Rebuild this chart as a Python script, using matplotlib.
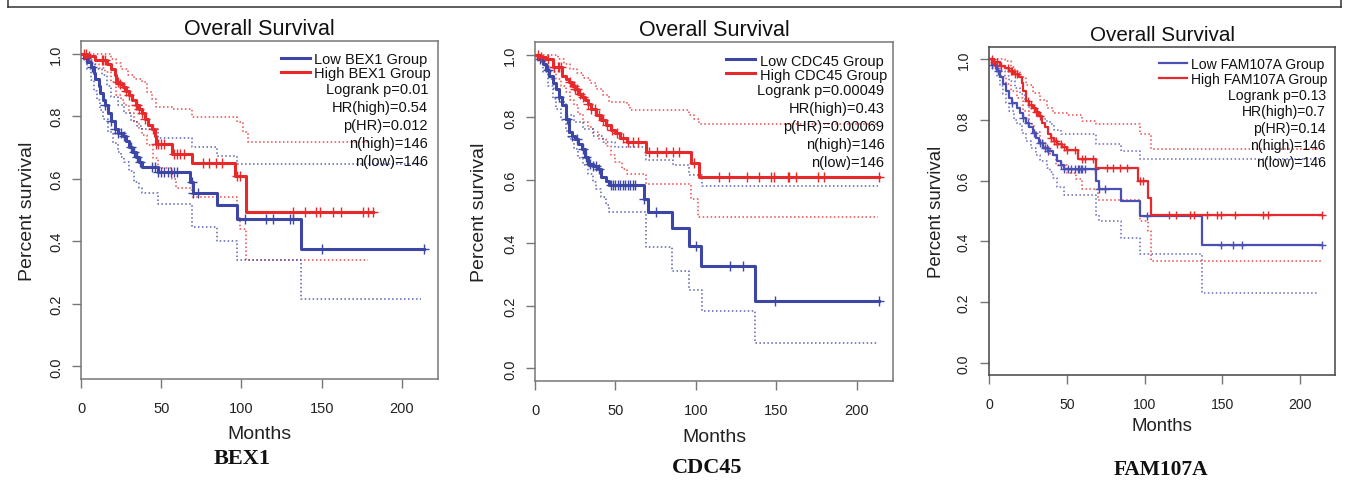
import numpy as np
import matplotlib
matplotlib.use("Agg")
import matplotlib.pyplot as plt
from matplotlib.lines import Line2D

plt.rcParams["font.family"] = ["Liberation Sans", "DejaVu Sans"]

genes = ["BEX1", "CDC45", "FAM107A"]
logrank_p = ["0.01", "0.00049", "0.13"]
hr_high = ["0.54", "0.43", "0.7"]
p_hr = ["0.012", "0.00069", "0.14"]
n_high = [146, 146, 146]
n_low = [146, 146, 146]

# ---- BEX1 ----
bex1_high_t = [0, 4, 9, 16, 19, 21, 22, 24, 26, 28, 30, 32, 34, 36, 38, 40, 42, 44, 46, 47, 57, 69, 96, 103]
bex1_high_s = [1.0, 0.993, 0.979, 0.965, 0.951, 0.93, 0.91, 0.903, 0.893, 0.88, 0.867, 0.852, 0.835, 0.822,
               0.81, 0.79, 0.772, 0.76, 0.735, 0.71, 0.68, 0.65, 0.61, 0.494]
bex1_high_end = 182
bex1_low_t = [0, 2, 4, 6, 8, 9, 11, 12, 14, 15, 17, 19, 21, 23, 26, 28, 30, 32, 34, 36, 38, 48, 68, 70, 85, 97, 137]
bex1_low_s = [1.0, 0.986, 0.972, 0.958, 0.937, 0.92, 0.895, 0.875, 0.85, 0.835, 0.81, 0.785, 0.76, 0.745,
              0.735, 0.72, 0.70, 0.685, 0.668, 0.652, 0.638, 0.622, 0.59, 0.555, 0.515, 0.47, 0.375]
bex1_low_end = 214
bex1_high_up_t = [0, 9, 19, 22, 25, 29, 33, 38, 41, 44, 47, 57, 69, 97, 101, 104]
bex1_high_up_s = [1.0, 1.0, 0.984, 0.97, 0.952, 0.93, 0.92, 0.91, 0.878, 0.856, 0.83, 0.823, 0.798, 0.782, 0.75, 0.718]
bex1_high_up_end = 180
bex1_high_lo_t = [0, 4, 7, 11, 15, 19, 22, 25, 27, 30, 33, 36, 38, 41, 45, 48, 57, 59, 69, 97, 99, 103]
bex1_high_lo_s = [1.0, 0.98, 0.968, 0.955, 0.94, 0.91, 0.867, 0.85, 0.835, 0.81, 0.782, 0.76, 0.739, 0.707,
                  0.665, 0.633, 0.60, 0.569, 0.542, 0.473, 0.44, 0.34]
bex1_high_lo_end = 179
bex1_low_up_t = [0, 3, 6, 9, 13, 16, 19, 23, 27, 31, 35, 38, 48, 69, 85, 97]
bex1_low_up_s = [1.0, 0.99, 0.97, 0.95, 0.93, 0.895, 0.86, 0.835, 0.81, 0.785, 0.77, 0.76, 0.73, 0.70, 0.673, 0.646]
bex1_low_up_end = 213
bex1_low_lo_t = [0, 2, 4, 6, 8, 10, 12, 14, 17, 20, 23, 25, 27, 30, 33, 36, 38, 48, 69, 85, 97, 137]
bex1_low_lo_s = [1.0, 0.975, 0.95, 0.915, 0.88, 0.85, 0.82, 0.79, 0.75, 0.715, 0.685, 0.67, 0.654, 0.625,
                 0.59, 0.57, 0.553, 0.52, 0.446, 0.40, 0.34, 0.215]
bex1_low_lo_end = 212
bex1_high_cens = [2, 3, 5, 13, 14, 15, 23, 24, 27, 28, 30, 34, 35, 36, 38, 40, 45, 47, 48, 50, 52, 58, 60, 62,
                  64, 76, 80, 84, 88, 97, 99, 132, 139.5, 146.7, 149, 157, 162, 176, 179, 182]
bex1_low_cens = [3, 7, 15, 19, 21, 23, 25, 27, 31, 33, 35, 37, 44, 46, 48, 50, 52, 54, 56, 58, 60, 69, 70, 73,
                 102, 115.6, 119.6, 130, 132, 150, 214]

# ---- CDC45 ----
cdc45_high_t = [0, 3, 7, 11, 17, 19, 21, 23, 25, 27, 29, 31, 33, 35, 38, 41, 44, 47, 50, 53, 57, 69, 97, 102]
cdc45_high_s = [1.0, 0.993, 0.986, 0.96, 0.933, 0.922, 0.912, 0.9, 0.89, 0.875, 0.865, 0.855, 0.844, 0.825,
                0.806, 0.79, 0.774, 0.76, 0.75, 0.735, 0.721, 0.691, 0.655, 0.61]
cdc45_high_end = 214
cdc45_low_t = [0, 2, 5, 7, 9, 11, 13, 15, 17, 19, 21, 23, 25, 27, 29, 31, 33, 36, 39, 41, 44, 46, 68, 70, 85,
               96, 103, 137]
cdc45_low_s = [1.0, 0.986, 0.97, 0.95, 0.933, 0.91, 0.89, 0.865, 0.838, 0.795, 0.753, 0.74, 0.732, 0.715,
               0.70, 0.675, 0.652, 0.645, 0.636, 0.61, 0.596, 0.583, 0.541, 0.50, 0.447, 0.39, 0.327, 0.214]
cdc45_low_end = 214
cdc45_high_up_t = [0, 9, 14, 18, 22, 26, 30, 34, 38, 42, 46, 57, 59, 96, 99, 102]
cdc45_high_up_s = [1.0, 0.997, 0.985, 0.97, 0.955, 0.94, 0.925, 0.91, 0.89, 0.87, 0.848, 0.84, 0.822, 0.806,
                   0.795, 0.78]
cdc45_high_up_end = 213
cdc45_high_lo_t = [0, 4, 7, 10, 13, 16, 19, 22, 24, 27, 30, 33, 36, 40, 44, 47, 50, 54, 57, 69, 97, 101]
cdc45_high_lo_s = [1.0, 0.985, 0.965, 0.945, 0.923, 0.9, 0.88, 0.855, 0.838, 0.81, 0.785, 0.77, 0.753, 0.73,
                   0.71, 0.68, 0.657, 0.635, 0.62, 0.589, 0.541, 0.483]
cdc45_high_lo_end = 213
cdc45_low_up_t = [0, 3, 6, 9, 12, 15, 19, 24, 30, 36, 42, 50, 69, 86, 96, 104]
cdc45_low_up_s = [1.0, 0.985, 0.955, 0.923, 0.89, 0.85, 0.806, 0.785, 0.763, 0.74, 0.721, 0.705, 0.663, 0.647,
                  0.615, 0.58]
cdc45_low_up_end = 213
cdc45_low_lo_t = [0, 2, 5, 8, 11, 13, 16, 19, 21, 24, 27, 30, 33, 36, 38, 41, 44, 46, 69, 85, 96, 104, 137]
cdc45_low_lo_s = [1.0, 0.975, 0.944, 0.9, 0.86, 0.827, 0.79, 0.755, 0.732, 0.70, 0.67, 0.647, 0.62, 0.595,
                  0.573, 0.545, 0.52, 0.499, 0.387, 0.31, 0.25, 0.182, 0.08]
cdc45_low_lo_end = 213
cdc45_high_cens = [2, 4, 8, 12, 14, 15, 16, 22, 24, 25, 26, 28, 30, 33, 35, 37, 40, 42, 45, 48, 51, 55, 58, 61,
                   64, 71, 76, 81.5, 85.7, 89.8, 99, 114.6, 120.8, 132, 139.5, 146.7, 148.8, 157, 158, 162,
                   175.7, 179.8, 214]
cdc45_low_cens = [3, 8, 15, 20, 23, 26, 30, 32, 34, 36, 38, 40, 47, 48.5, 50, 51.5, 53, 54.5, 56, 57.5, 59, 61,
                  62, 68, 75, 100, 121, 129, 149, 214]

# ---- FAM107A ----
fam_high_t = [0, 3, 7, 10, 13, 16, 19, 21, 22, 24, 26, 28, 30, 32, 34, 36, 38, 40, 42, 44, 47, 50, 57, 69, 96,
              102, 104]
fam_high_s = [1.0, 0.99, 0.978, 0.97, 0.961, 0.95, 0.94, 0.92, 0.895, 0.862, 0.85, 0.84, 0.825, 0.813, 0.79,
              0.775, 0.755, 0.742, 0.73, 0.72, 0.71, 0.70, 0.67, 0.64, 0.6, 0.543, 0.486]
fam_high_end = 214
fam_low_t = [0, 2, 5, 7, 9, 11, 13, 15, 18, 20, 22, 24, 26, 28, 30, 32, 35, 38, 41, 44, 46, 48, 69, 70.5, 85,
             97, 137]
fam_low_s = [1.0, 0.98, 0.961, 0.94, 0.917, 0.895, 0.873, 0.857, 0.84, 0.823, 0.807, 0.79, 0.775, 0.758,
             0.742, 0.725, 0.709, 0.697, 0.686, 0.665, 0.653, 0.637, 0.598, 0.571, 0.532, 0.484, 0.387]
fam_low_end = 214
fam_high_up_t = [0, 10, 14, 17, 20, 24, 28, 33, 37, 41, 50, 60, 69, 97, 104]
fam_high_up_s = [1.0, 0.995, 0.975, 0.96, 0.94, 0.915, 0.89, 0.865, 0.84, 0.824, 0.815, 0.797, 0.785, 0.752,
                 0.703]
fam_high_up_end = 214
fam_high_lo_t = [0, 3, 5, 8, 11, 14, 18, 22, 26, 29, 33, 36, 39, 43, 50, 56, 60, 70, 97, 102, 104]
fam_high_lo_s = [1.0, 0.98, 0.961, 0.94, 0.917, 0.895, 0.873, 0.83, 0.785, 0.76, 0.73, 0.71, 0.686, 0.653,
                 0.626, 0.604, 0.571, 0.535, 0.466, 0.433, 0.335]
fam_high_lo_end = 214
fam_low_up_t = [0, 3, 7, 10, 13, 17, 20, 23, 26, 30, 33, 36, 39, 42, 46, 69, 85, 97]
fam_low_up_s = [1.0, 0.985, 0.961, 0.945, 0.928, 0.905, 0.884, 0.862, 0.84, 0.82, 0.807, 0.795, 0.785, 0.768,
                0.752, 0.72, 0.697, 0.67]
fam_low_up_end = 214
fam_low_lo_t = [0, 2, 5, 7, 9, 11, 13, 16, 18, 21, 24, 27, 30, 33, 37, 39, 41, 44, 48, 69, 70.5, 85, 97, 137]
fam_low_lo_s = [1.0, 0.97, 0.94, 0.91, 0.884, 0.857, 0.83, 0.8, 0.785, 0.757, 0.73, 0.708, 0.686, 0.665, 0.643,
                0.627, 0.61, 0.58, 0.554, 0.488, 0.466, 0.41, 0.358, 0.231]
fam_low_lo_end = 211
fam_high_cens = [2, 3, 5, 8, 12, 14, 15, 17, 18, 25, 27, 29, 30, 31, 33, 40, 42, 43, 44, 46, 48, 50, 55, 60, 62,
                 67, 75.7, 80, 84.3, 88.6, 96.8, 99, 115.5, 120.4, 129.5, 131.6, 140.2, 146.7, 149.5, 158.5,
                 176.3, 179.6, 214.4]
fam_low_cens = [2, 4, 6, 15, 22, 25, 29, 33, 34, 36, 37, 38, 46, 48, 51, 53, 55, 57, 58, 59, 60, 62, 68, 70.5,
                74.6, 101.5, 149.2, 157, 162.8, 214]

panels = [
    dict(high=(bex1_high_t, bex1_high_s, bex1_high_end), low=(bex1_low_t, bex1_low_s, bex1_low_end),
         ci=[("high", bex1_high_up_t, bex1_high_up_s, bex1_high_up_end),
             ("high", bex1_high_lo_t, bex1_high_lo_s, bex1_high_lo_end),
             ("low", bex1_low_up_t, bex1_low_up_s, bex1_low_up_end),
             ("low", bex1_low_lo_t, bex1_low_lo_s, bex1_low_lo_end)],
         hc=bex1_high_cens, lc=bex1_low_cens),
    dict(high=(cdc45_high_t, cdc45_high_s, cdc45_high_end), low=(cdc45_low_t, cdc45_low_s, cdc45_low_end),
         ci=[("high", cdc45_high_up_t, cdc45_high_up_s, cdc45_high_up_end),
             ("high", cdc45_high_lo_t, cdc45_high_lo_s, cdc45_high_lo_end),
             ("low", cdc45_low_up_t, cdc45_low_up_s, cdc45_low_up_end),
             ("low", cdc45_low_lo_t, cdc45_low_lo_s, cdc45_low_lo_end)],
         hc=cdc45_high_cens, lc=cdc45_low_cens),
    dict(high=(fam_high_t, fam_high_s, fam_high_end), low=(fam_low_t, fam_low_s, fam_low_end),
         ci=[("high", fam_high_up_t, fam_high_up_s, fam_high_up_end),
             ("high", fam_high_lo_t, fam_high_lo_s, fam_high_lo_end),
             ("low", fam_low_up_t, fam_low_up_s, fam_low_up_end),
             ("low", fam_low_lo_t, fam_low_lo_s, fam_low_lo_end)],
         hc=fam_high_cens, lc=fam_low_cens),
]

# layout in pixels: left, top, right, bottom of each plot box
W, H = 1346, 485
boxes = [(81, 42, 438, 380), (535, 43, 893, 382), (989, 48, 1335, 376)]
legend_anchor = [(0.980, 0.966), (0.983, 0.966), (0.979, 0.971)]
legend_gap = [0.0, 0.0, 0.1]
stats_x = [0.972, 0.976, 0.973]
stats_y0 = [0.858, 0.859, 0.855]
stats_dy = [0.0533, 0.0535, 0.0515]
xlabel_y = [-0.136, -0.138, -0.128]
ylabel_x = [-0.126, -0.13, -0.126]
gene_pos = [(242.5, 459), (707.5, 468), (1161, 470)]
scale = [1.0, 1.0, 0.96]
main_lw = [2.2, 2.2, 1.6]
blues = ["#3b46a6", "#3b46a6", "#4a4fb4"]
red = "#e8292b"


def step_xy(t, s, end):
    return list(t) + [end], list(s) + [s[-1]]


def at(t, s, x):
    idx = np.searchsorted(np.array(t), np.array(x), side="right") - 1
    return np.array(s)[idx]


fig = plt.figure(figsize=(W / 100, H / 100), dpi=100)

for i, p in enumerate(panels):
    l, t, r, b = boxes[i]
    ax = fig.add_axes([l / W, 1 - b / H, (r - l) / W, (b - t) / H])
    k = scale[i]
    blue = blues[i]

    for grp, ct, cs, ce in p["ci"]:
        col = red if grp == "high" else blue
        x, y = step_xy(ct, cs, ce)
        ax.step(x, y, where="post", color=col, lw=1.1, ls=(0, (1, 1.6)), alpha=0.85, zorder=2)

    lt, ls_, le = p["low"]
    x, y = step_xy(lt, ls_, le)
    h_low, = ax.step(x, y, where="post", color=blue, lw=main_lw[i], zorder=3,
                     label=f"Low {genes[i]} Group")
    ax.plot(p["lc"], at(lt, ls_, p["lc"]), ls="none", marker="+", ms=6.5 * k, mew=1.0,
            color=blue, zorder=3)

    ht, hs, he = p["high"]
    x, y = step_xy(ht, hs, he)
    h_high, = ax.step(x, y, where="post", color=red, lw=main_lw[i], zorder=4,
                      label=f"High {genes[i]} Group")
    ax.plot(p["hc"], at(ht, hs, p["hc"]), ls="none", marker="+", ms=6.5 * k, mew=1.0,
            color=red, zorder=4)

    ax.set_xlim(0, 222.5)
    ax.set_ylim(-0.04, 1.04)
    ax.set_xticks([0, 50, 100, 150, 200])
    ax.set_yticks([0, 0.2, 0.4, 0.6, 0.8, 1.0])
    ax.set_yticklabels(["0.0", "0.2", "0.4", "0.6", "0.8", "1.0"])
    ax.tick_params(direction="out", length=6.5, width=1.0, color="#777", labelsize=10.5 * k,
                   labelcolor="#222")
    ax.tick_params(axis="x", pad=9)
    ax.tick_params(axis="y", pad=6.5)
    for lab in ax.get_yticklabels():
        lab.set_rotation(90)
        lab.set_va("center")
    for sp in ax.spines.values():
        sp.set_color("#777" if i < 2 else "#444")
        sp.set_linewidth(1.1)

    ax.set_title("Overall Survival", fontsize=15.5 * k, pad=5, color="#111")
    ax.set_xlabel("Months", fontsize=14 * k, color="#222")
    ax.set_ylabel("Percent survival", fontsize=14 * k, color="#222")
    ax.xaxis.set_label_coords(0.5, xlabel_y[i])
    ax.yaxis.set_label_coords(ylabel_x[i], 0.5)

    ax.legend(handles=[h_low, h_high], loc="upper right", bbox_to_anchor=legend_anchor[i],
              frameon=False, fontsize=10.5 * k, handlelength=2.0, handletextpad=0.3,
              labelspacing=legend_gap[i], borderpad=0, borderaxespad=0, labelcolor="#111")

    stats = [f"Logrank p={logrank_p[i]}", f"HR(high)={hr_high[i]}", f"p(HR)={p_hr[i]}",
             f"n(high)={n_high[i]}", f"n(low)={n_low[i]}"]
    for j, s in enumerate(stats):
        ax.text(stats_x[i], stats_y0[i] - j * stats_dy[i], s, transform=ax.transAxes,
                ha="right", va="center", fontsize=10.5 * k, color="#111", zorder=5)

    gx, gy = gene_pos[i]
    fig.text(gx / W, 1 - gy / H, genes[i], ha="center", va="center", fontsize=16 * k,
             fontweight="bold", family=["Liberation Serif", "DejaVu Serif"], color="#111")

# outer frame of the figure
for xs, ys in [([7.5, 7.5], [0, 7.5]), ([7.5, 1341], [7.5, 7.5]), ([1341, 1341], [7.5, 0])]:
    fig.add_artist(Line2D([v / W for v in xs], [1 - v / H if v > 0 else 1.0 for v in ys],
                          color="#333", lw=1.1))

fig.savefig("out.png", dpi=100)
